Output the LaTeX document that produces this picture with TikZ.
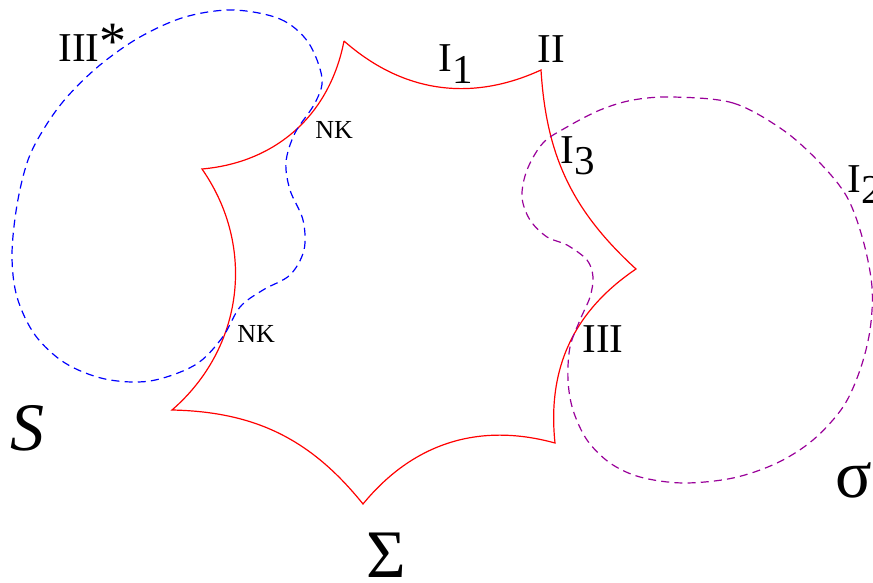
\documentclass[tikz,border=0pt]{standalone}
\usepackage{fontspec}
\setmainfont{Liberation Serif}
\definecolor{wallred}{HTML}{FF0000}
\definecolor{sheetblue}{HTML}{0000FF}
\definecolor{sheetpurple}{HTML}{990099}
\newcommand{\lowsub}[1]{\raisebox{-0.28em}{#1}}

\begin{document}
\begin{tikzpicture}[
  x=0.5pt, y=-0.5pt,
  boundary/.style={draw=wallred, line width=0.6pt},
  sheet/.style={dash pattern=on 4pt off 2.6pt, line width=0.6pt},
  letter/.style={inner sep=0pt, anchor=base west, font=\fontsize{20.5}{24}\selectfont},
  small letter/.style={letter, font=\fontsize{13}{15}\selectfont},
  big letter/.style={letter, font=\fontsize{34}{40}\selectfont}
]
\useasboundingbox (0,0) rectangle (873,583);

% cusps of the boundary
\coordinate (c1) at (344,41);
\coordinate (c2) at (541,70);
\coordinate (c3) at (636,269);
\coordinate (c4) at (555,443);
\coordinate (c5) at (363,504);
\coordinate (c6) at (172,410);
\coordinate (c7) at (202,169);

\draw[boundary] (c1) to[bend right=33] (c2) to[bend right=22] (c3)
  to[bend right=31] (c4) to[bend right=33] (c5) to[bend right=25] (c6)
  to[bend right=42] (c7) to[bend right=37] (c1);

% left sheet
\draw[sheet, draw=sheetblue] plot[smooth cycle, tension=0.55] coordinates {
  (233,10) (280,19) (308,42) (322,78) (315,103) (295,133) (286,162) (290,190)
  (303,220) (304,250) (290,275) (263,290) (240,307) (222,338) (195,365) (150,381)
  (105,379) (65,363) (35,335) (17,297) (12,255) (17,205) (28,160) (45,127)
  (67,97) (100,65) (140,37) (185,17)};

% right sheet
\draw[sheet, draw=sheetpurple] plot[smooth cycle, tension=0.55] coordinates {
  (673,97) (733,103) (783,130) (820,163) (847,197) (863,240) (872,287) (870,330)
  (860,370) (843,407) (813,440) (777,463) (733,478) (683,483) (640,477) (610,463)
  (587,440) (573,410) (568,380) (570,347) (580,320) (590,297) (593,277) (587,260)
  (567,245) (547,237) (530,220) (522,197) (527,170) (543,143) (567,127) (600,110)
  (633,100)};

% labels
\node[letter] (threestar) at (58,62) {III\raisebox{1.5pt}{\fontsize{27}{28}\selectfont *}};
\node[letter] (ione) at (438,72) {I\lowsub{1}};
\node[letter] (two) at (537,63) {II};
\node[letter] (ithree) at (560,163) {I\lowsub{3}};
\node[letter] (itwo) at (847,192) {I\lowsub{2}};
\node[letter] (three) at (582,352) {III};
\node[small letter] (nkup) at (315,139) {NK};
\node[small letter] (nklow) at (237,342) {NK};
\node[big letter] (bigS) at (10,450) {\textit{S}};
\node[big letter] (Sigma) at (366,577) {Σ};
\node[big letter] (sigma) at (835,497) {σ};
\end{tikzpicture}
\end{document}
